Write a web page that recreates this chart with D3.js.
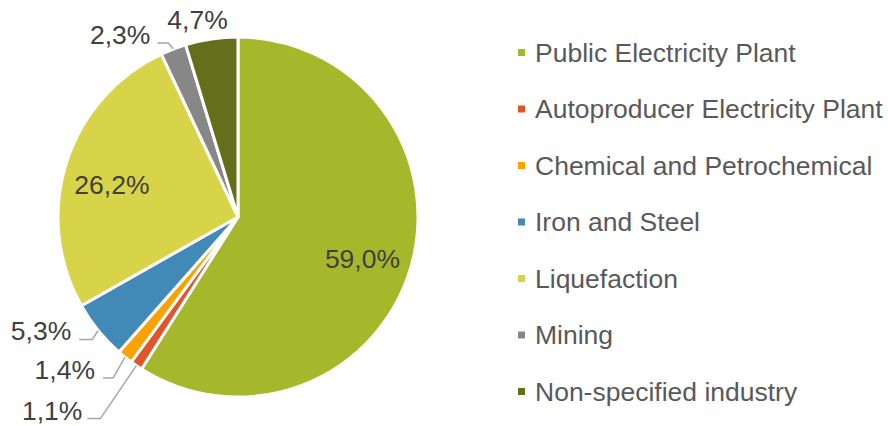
<!DOCTYPE html>
<html>
<head>
<meta charset="utf-8">
<script src="https://cdn.jsdelivr.net/npm/d3@7"></script>
<style>
  html, body { margin: 0; padding: 0; background: #fff; }
  svg { display: block; }
</style>
</head>
<body>
<div id="chart"></div>
<script>
// data
const categories = [
  "Public Electricity Plant",
  "Autoproducer Electricity Plant",
  "Chemical and Petrochemical",
  "Iron and Steel",
  "Liquefaction",
  "Mining",
  "Non-specified industry"
];
const shares = [59.0, 1.1, 1.4, 5.3, 26.2, 2.3, 4.7];
const colors = ["#a5b82b", "#e0552a", "#fba100", "#4189b6", "#d8d44a", "#878787", "#646f1b"];

const width = 888, height = 426;
const cx = 238, cy = 217, radius = 180;
const fontSize = 26.5;

// label placement: inside labels at a fraction of the radius,
// outside labels with an elbow leader line (offsets from the arc edge)
const labelLayout = [
  { inside: true, f: 0.72, dy: 6 },
  { inside: false, elbow: [-36, 53], run: 13, gap: 5 },
  { inside: false, elbow: [-12, 21], run: 10, gap: 8 },
  { inside: false, elbow: [-6, 9], run: 13, gap: 8 },
  { inside: true, f: 0.735, dy: 8 },
  { inside: false, elbow: [-5, -6], run: 11, gap: 7 },
  { inside: false, noLine: true, dx: -14, dy: -10 }
];

const fmt = v => v.toFixed(1).replace(".", ",") + "%";

const svg = d3.select("#chart").append("svg")
  .attr("width", width)
  .attr("height", height)
  .attr("font-family", "'Liberation Sans', Arial, sans-serif");

const pie = d3.pie().sort(null).value(d => d);
const arcs = pie(shares);
const arc = d3.arc().innerRadius(0).outerRadius(radius);

const g = svg.append("g").attr("transform", `translate(${cx},${cy})`);

g.selectAll("path.slice")
  .data(arcs)
  .join("path")
  .attr("class", "slice")
  .attr("d", arc)
  .attr("fill", (d, i) => colors[i])
  .attr("stroke", "#fff")
  .attr("stroke-width", 3)
  .attr("stroke-linejoin", "miter");

// labels
arcs.forEach((a, i) => {
  const L = labelLayout[i];
  const mid = (a.startAngle + a.endAngle) / 2;
  const sx = Math.sin(mid), sy = -Math.cos(mid);
  if (L.inside) {
    g.append("text")
      .attr("x", sx * radius * L.f)
      .attr("y", sy * radius * L.f + L.dy)
      .attr("text-anchor", "middle")
      .attr("dy", "0.35em")
      .attr("font-size", fontSize)
      .attr("fill", "#404040")
      .text(fmt(shares[i]));
  } else if (L.noLine) {
    g.append("text")
      .attr("x", sx * radius + L.dx)
      .attr("y", sy * radius + L.dy)
      .attr("text-anchor", "middle")
      .attr("font-size", fontSize)
      .attr("fill", "#404040")
      .text(fmt(shares[i]));
  } else {
    const p0 = [sx * radius, sy * radius];
    const p1 = [p0[0] + L.elbow[0], p0[1] + L.elbow[1]];
    const p2 = [p1[0] - L.run, p1[1]];
    g.append("polyline")
      .attr("points", [p0, p1, p2].map(p => p.join(",")).join(" "))
      .attr("fill", "none")
      .attr("stroke", "#a6a6a6")
      .attr("stroke-width", 1.5);
    g.append("text")
      .attr("x", p2[0] - L.gap)
      .attr("y", p2[1] + 1)
      .attr("text-anchor", "end")
      .attr("font-size", fontSize)
      .attr("fill", "#404040")
      .text(fmt(shares[i]));
  }
});

// legend
const legendY = d3.scalePoint()
  .domain(categories)
  .range([52.5, 391.5]);

const legend = svg.append("g")
  .selectAll("g")
  .data(categories)
  .join("g")
  .attr("transform", d => `translate(518,${legendY(d)})`);

legend.append("rect")
  .attr("x", 0)
  .attr("y", -3.5)
  .attr("width", 7)
  .attr("height", 7)
  .attr("fill", (d, i) => colors[i]);

legend.append("text")
  .attr("x", 17)
  .attr("dy", "0.35em")
  .attr("font-size", fontSize)
  .attr("fill", "#595959")
  .text(d => d);
</script>
</body>
</html>
